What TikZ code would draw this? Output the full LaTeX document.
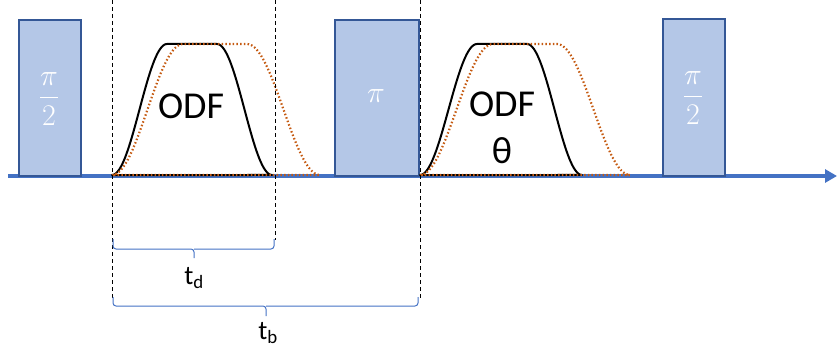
\RequirePackage{fix-cm}
\documentclass[tikz,border=0pt]{standalone}
\usepackage{amsmath}
\usepackage{fontspec}
\setmainfont{Carlito}
\usetikzlibrary{arrows.meta}
\definecolor{axisblue}{RGB}{68,114,196}
\definecolor{boxfill}{RGB}{180,199,231}
\definecolor{boxline}{RGB}{52,87,150}
\definecolor{odforange}{RGB}{197,90,17}
\tikzset{
  pulsebox/.style={draw=boxline, line width=2pt, fill=boxfill, inner sep=0pt, anchor=north west},
  boxlabel/.style={text=white, font=\fontsize{30}{34}\selectfont},
  guide/.style={black, line width=0.8pt, dash pattern=on 4pt off 3pt},
  bracket/.style={axisblue, line width=1pt, rounded corners=3pt},
  odfblack/.style={black, line width=2pt, line join=round},
  odfdot/.style={odforange, line width=2.2pt, dash pattern=on 1.5pt off 2.2pt},
  bigtext/.style={font=\fontsize{38}{42}\selectfont, inner sep=0pt},
  timetext/.style={font=\fontsize{27}{30}\selectfont, inner sep=0pt}
}
\begin{document}
\begin{tikzpicture}[x=1pt,y=-1pt]
\useasboundingbox (0,0) rectangle (837,350);
% axis
\coordinate (axs) at (8,176);
\coordinate (axe) at (837,176);
\draw[axisblue, line width=3.5pt, -{Triangle[length=12pt,width=13pt]}] (axs) -- (axe);
% pulse boxes
\node[pulsebox, minimum width=62pt, minimum height=156pt] (b1) at (18,19) {};
\node[pulsebox, minimum width=84pt, minimum height=156pt] (b2) at (334,19) {};
\node[pulsebox, minimum width=62pt, minimum height=157pt] (b3) at (662,18) {};
\node[boxlabel] (l1) at (49,99) {$\dfrac{\pi}{2}$};
\node[boxlabel] (l2) at (376,96) {$\pi$};
\node[boxlabel] (l3) at (693,98) {$\dfrac{\pi}{2}$};
% ODF pulse 1 black
\draw[odfblack]
  plot[domain=0:1,samples=40] ({112+55*\x},{175-131*(1-cos(180*\x))/2})
  -- (217,44)
  -- plot[domain=0:1,samples=40] ({217+55*\x},{44+131*(1-cos(180*\x))/2})
  -- cycle;
% ODF pulse 1 orange
\draw[odfdot]
  plot[domain=0:1,samples=40] ({112+71*\x},{175-131*(1-cos(180*\x))/2})
  -- (247,44)
  -- plot[domain=0:1,samples=40] ({247+73*\x},{44+131*(1-cos(180*\x))/2})
  -- cycle;
% ODF pulse 2 black
\draw[odfblack]
  plot[domain=0:1,samples=40] ({420+57*\x},{175-131*(1-cos(180*\x))/2})
  -- (527,44)
  -- plot[domain=0:1,samples=40] ({527+55*\x},{44+131*(1-cos(180*\x))/2})
  -- cycle;
% ODF pulse 2 orange
\draw[odfdot]
  plot[domain=0:1,samples=40] ({420+73*\x},{175-131*(1-cos(180*\x))/2})
  -- (557,44)
  -- plot[domain=0:1,samples=40] ({557+73*\x},{44+131*(1-cos(180*\x))/2})
  -- cycle;
\node[bigtext] (odf1) at (191,106) {ODF};
\node[bigtext] (odf2) at (502,104) {ODF};
\node[bigtext] (theta) at (502,151) {θ};
% guides
\coordinate (g1t) at (112,0); \coordinate (g1b) at (112,298);
\coordinate (g2t) at (275,0); \coordinate (g2b) at (275,240);
\coordinate (g3t) at (420,0); \coordinate (g3b) at (420,298);
\draw[guide] (g1t) -- (g1b);
\draw[guide] (g2t) -- (g2b);
\draw[guide] (g3t) -- (g3b);
% brackets
\coordinate (tdtip) at (194,258);
\draw[bracket] (113,239) |- (194,249) -- (tdtip);
\draw[bracket] (274,239) |- (194,249);
\coordinate (tbtip) at (266,316);
\draw[bracket] (113,297) |- (266,306) -- (tbtip);
\draw[bracket] (418,297) |- (266,306);
\node[timetext] (td) at (194,278) {t\textsubscript{d}};
\node[timetext] (tb) at (268,333) {t\textsubscript{b}};
\end{tikzpicture}
\end{document}
